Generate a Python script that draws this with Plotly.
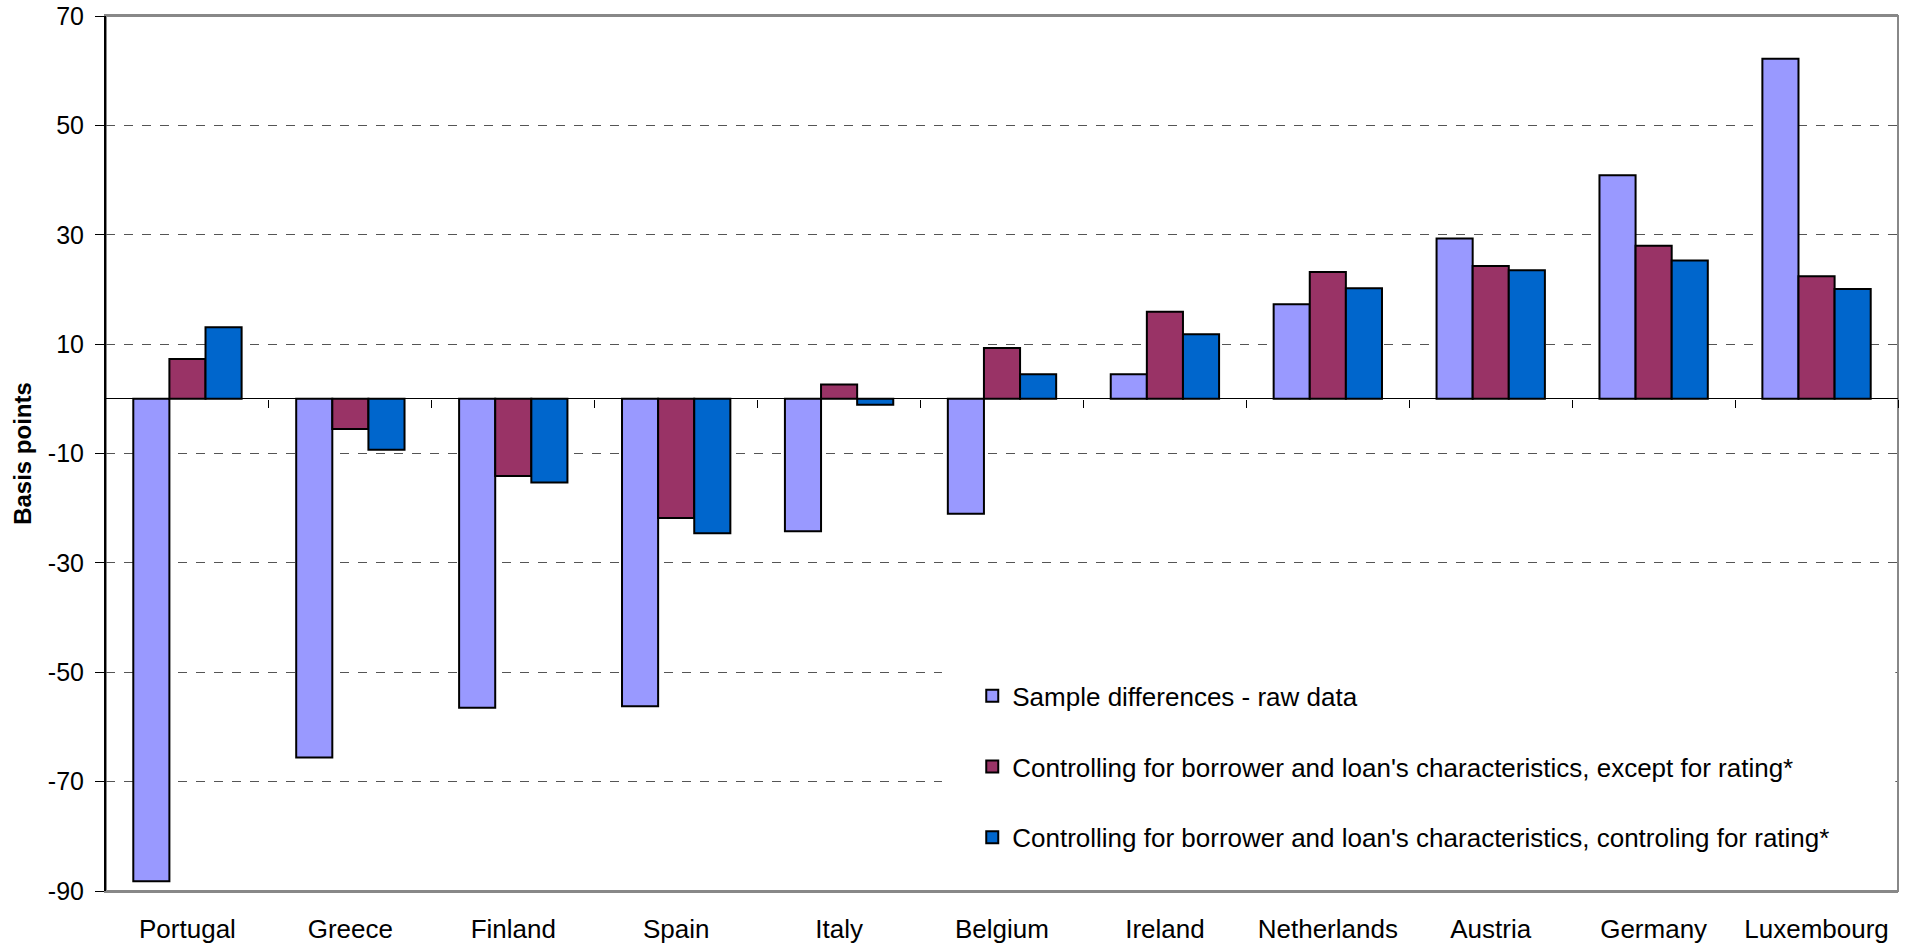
import numpy as np
import plotly.graph_objects as go

countries = ["Portugal", "Greece", "Finland", "Spain", "Italy", "Belgium",
             "Ireland", "Netherlands", "Austria", "Germany", "Luxembourg"]

raw_data = [-88.2, -65.6, -56.5, -56.2, -24.2, -21.0, 4.5, 17.3, 29.3, 40.9, 62.2]
except_rating = [7.3, -5.5, -14.1, -21.8, 2.6, 9.3, 15.9, 23.2, 24.3, 28.0, 22.4]
with_rating = [13.1, -9.3, -15.3, -24.6, -1.1, 4.5, 11.8, 20.2, 23.5, 25.3, 20.1]

series_names = [
    "Sample differences - raw data",
    "Controlling for borrower and loan's characteristics, except for rating*",
    "Controlling for borrower and loan's characteristics, controling for rating*",
]
series_colors = ["#9999FF", "#993366", "#0066CC"]

y_ticks = [-90, -70, -50, -30, -10, 10, 30, 50, 70]
y_min, y_max = -90, 70

FONT = "Liberation Sans, Arial, sans-serif"

fig = go.Figure()
for i, (name, vals, col) in enumerate(zip(series_names,
                                          [raw_data, except_rating, with_rating],
                                          series_colors)):
    fig.add_trace(go.Bar(
        x=countries, y=vals, name=name,
        marker=dict(color=col, line=dict(color="black", width=2)),
        legendgroup=f"g{i}",
    ))

n = len(countries)
boundaries = list(np.arange(n) + 0.5)

legend_x = 0.4834
legend_y = 0.250

fig.update_layout(
    width=1913, height=947,
    margin=dict(l=106, r=15, t=16, b=56, autoexpand=False),
    paper_bgcolor="white", plot_bgcolor="white",
    barmode="group", bargap=0.335, bargroupgap=0,
    font=dict(family=FONT, size=25, color="black"),
    showlegend=True,
    legend=dict(
        x=legend_x, y=legend_y, xanchor="left", yanchor="top",
        bgcolor="white", borderwidth=0,
        font=dict(family=FONT, size=26, color="black"),
        traceorder="grouped", tracegroupgap=34,
    ),
    xaxis=dict(
        type="category", range=[-0.5, n - 0.5], automargin=False,
        showline=True, linecolor="#888888", linewidth=2, mirror=True,
        ticks="", showgrid=False, zeroline=False,
        tickfont=dict(family=FONT, size=26, color="black"),
        ticklabelstandoff=14,
    ),
    xaxis2=dict(
        overlaying="x", anchor="free", automargin=False,
        position=(0 - y_min) / (y_max - y_min),
        range=[-0.5, n - 0.5], tickmode="array", tickvals=boundaries,
        ticks="outside", ticklen=8, tickwidth=1, tickcolor="black",
        showticklabels=False, showline=False, showgrid=False, zeroline=False,
    ),
    yaxis=dict(
        range=[y_min, y_max], tickmode="array", tickvals=y_ticks,
        ticktext=[str(v) for v in y_ticks], automargin=False,
        showline=True, linecolor="black", linewidth=2,
        ticks="outside", ticklen=9, tickwidth=1, tickcolor="black",
        showgrid=True, gridcolor="#555555", gridwidth=1, griddash="dash",
        zeroline=True, zerolinecolor="black", zerolinewidth=1,
        tickfont=dict(family=FONT, size=25, color="black"),
        ticklabelstandoff=6,
        title=dict(text="<b>Basis points</b>", standoff=9,
                   font=dict(family=FONT, size=24, color="black")),
    ),
    shapes=[
        dict(type="rect", xref="paper", yref="paper", x0=0, x1=1, y0=0, y1=1,
             line=dict(color="#888888", width=2), layer="below"),
        # white backdrop of the legend area (hides gridlines, like the original)
        dict(type="rect", xref="paper", yref="paper", x0=0.4665, x1=0.9985,
             y0=0.003, y1=0.3125, fillcolor="white", line=dict(width=0),
             layer="above"),
    ],
)

fig.add_trace(go.Scatter(x=[], y=[], xaxis="x2", showlegend=False))

fig.write_html("out.html", config={"displayModeBar": False},
               post_script="document.body.style.margin='0';document.body.style.overflow='hidden';")
